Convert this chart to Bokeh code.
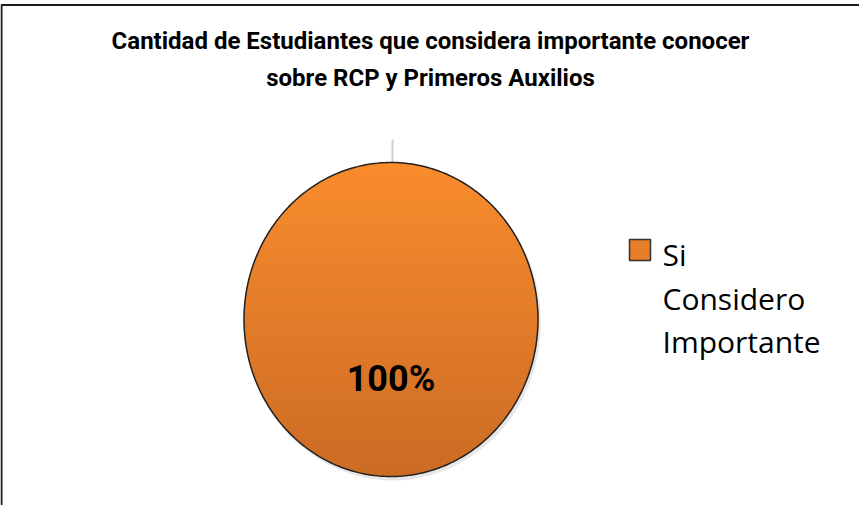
import numpy as np
from bokeh.plotting import figure
from bokeh.models import Range1d
from bokeh.core.properties import value
from bokeh.embed import file_html
from bokeh.resources import INLINE

# ---- data ----
title_lines = ["Cantidad de Estudiantes que considera importante conocer",
               "sobre RCP y Primeros Auxilios"]
categories = ["Si Considero Importante"]
legend_lines = ["Si", "Considero", "Importante"]
percentages = [100]
slice_colors = ["#E67E2A"]

W, H = 859, 505
p = figure(width=W, height=H, output_backend="svg", toolbar_location=None,
           x_range=Range1d(8, 8 + W), y_range=Range1d(8 + H, 8),
           min_border=0, outline_line_color=None)
p.axis.visible = False
p.grid.visible = False
p.background_fill_color = "white"
p.border_fill_color = "white"

# chart border (cropped at right/bottom)
p.line(x=[9, 9, 900], y=[600, 12.5, 12.5], line_color="#1a1a1a", line_width=2)

# title
p.text(x=[438, 438], y=[48, 85], text=title_lines,
       text_font=value("Roboto"), text_font_style="bold", text_font_size="24px",
       text_align="center", text_baseline="middle", text_color="black")

# pie geometry
cx, cy, rx, ry = 398.5, 327, 147, 157

# leader line above pie
p.line(x=[cx + 1.5, cx + 1.5], y=[147, cy - ry], line_color="#cfcfcf", line_width=2)

# soft shadow
p.ellipse(x=[cx + 2], y=[cy + 3], width=2 * rx + 2, height=2 * ry + 2,
          fill_color="#bbbbbb", fill_alpha=0.35, line_color=None)

total = float(sum(percentages))
start = np.pi / 2
for val, col in zip(percentages, slice_colors):
    frac = val / total
    end = start - 2 * np.pi * frac
    t = np.linspace(start, end, 200)
    xs = cx + rx * np.cos(t)
    ys = cy - ry * np.sin(t)
    if frac < 0.9999:
        px_ = np.concatenate([[cx], xs])
        py_ = np.concatenate([[cy], ys])
    else:
        px_, py_ = xs, ys
    p.patch(x=px_, y=py_, fill_color=col, line_color=None)
    start = end

# vertical gradient shading (light top, darker bottom)
n = 80
edges = np.linspace(cy - ry, cy + ry, n + 1)
top_c = np.array([0xFA, 0x8D, 0x2E])
bot_c = np.array([0xCC, 0x6C, 0x25])
sx, sy, sc = [], [], []
for i in range(n):
    y0, y1 = edges[i], edges[i + 1]
    yy = np.linspace(y0, y1, 4)
    half = rx * np.sqrt(np.clip(1 - ((yy - cy) / ry) ** 2, 0, 1))
    xl = cx - half
    xr = cx + half
    sx.append(list(xl) + list(xr[::-1]))
    sy.append(list(yy) + list(yy[::-1]))
    f = (0.5 * (y0 + y1) - (cy - ry)) / (2 * ry)
    c = (top_c * (1 - f) + bot_c * f).astype(int)
    sc.append("#%02x%02x%02x" % tuple(c))
p.patches(xs=sx, ys=sy, fill_color=sc, line_color=sc, line_width=0.6)

# outline
tt = np.linspace(0, 2 * np.pi, 300)
p.line(x=cx + rx * np.cos(tt), y=cy - ry * np.sin(tt), line_color="#222222", line_width=1.5)

# data label
p.text(x=[cx], y=[386], text=["%d%%" % percentages[0]],
       text_font=value("Roboto"), text_font_style="bold", text_font_size="36px",
       text_align="center", text_baseline="middle", text_color="black")

# legend
p.rect(x=[647.5], y=[257.5], width=21, height=21, fill_color=slice_colors[0],
       line_color="#333333", line_width=1.5)
p.text(x=[670, 670, 670], y=[262, 306, 349], text=legend_lines,
       text_font=value("Open Sans"), text_font_size="30px",
       text_align="left", text_baseline="middle", text_color="black")

open("out.html", "w").write(file_html(p, INLINE))
